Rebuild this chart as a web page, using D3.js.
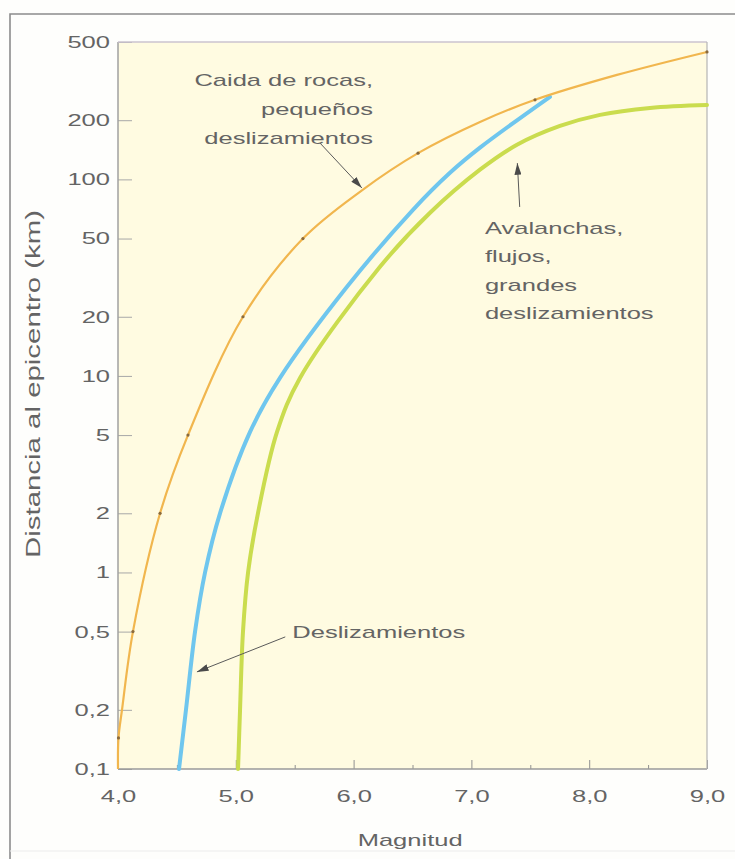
<!DOCTYPE html>
<html>
<head>
<meta charset="utf-8">
<script src="https://cdn.jsdelivr.net/npm/d3@7"></script>
<style>
  html, body { margin: 0; padding: 0; background: #ffffff; }
  svg { display: block; }
  text { font-family: "Liberation Sans", Arial, sans-serif; fill: #646464; }
</style>
</head>
<body>
<script>
// ---------- data ----------
const xTicks = [4, 5, 6, 7, 8, 9];
const xTickLabels = ["4,0", "5,0", "6,0", "7,0", "8,0", "9,0"];
const xMinorTicks = [4.5, 5.5, 6.5, 7.5, 8.5];
const yTicks = [0.1, 0.2, 0.5, 1, 2, 5, 10, 20, 50, 100, 200, 500];
const yTickLabels = ["0,1", "0,2", "0,5", "1", "2", "5", "10", "20", "50", "100", "200", "500"];

// Caída de rocas, pequeños deslizamientos  [magnitud, distancia km]
const rockfallMag  = [4.0, 4.004, 4.034, 4.127, 4.357, 4.594, 5.061, 5.57, 6.071, 6.547, 7.073, 7.54, 8.236, 9.0];
const rockfallDist = [0.1, 0.144, 0.2, 0.5, 2, 5, 20, 50, 88, 136, 196, 254, 340, 445];
// marks on the rockfall curve
const rockfallMarkMag  = [4.004, 4.127, 4.357, 4.594, 5.061, 5.57, 6.547, 7.54, 9.0];
const rockfallMarkDist = [0.144, 0.5, 2, 5, 20, 50, 136, 254, 445];

// Deslizamientos
const slideMag  = [4.518, 4.577, 4.654, 4.739, 4.866, 5.121, 5.375, 5.944, 6.504, 6.818, 7.073, 7.667];
const slideDist = [0.1, 0.2, 0.5, 1, 2, 5.19, 9.77, 28.4, 70, 108, 145, 263];

// Avalanchas, flujos, grandes deslizamientos
const avalMag  = [5.019, 5.036, 5.061, 5.104, 5.188, 5.35, 5.545, 6.224, 6.649, 7.073, 7.387, 7.752, 8.092, 8.516, 9.0];
const avalDist = [0.1, 0.2, 0.5, 1, 2, 5.19, 9.77, 35.9, 67.6, 112, 150, 187, 213, 231, 239];

// annotations (data coordinates)
const rockLabelLines = ["Caida de rocas,", "pequeños", "deslizamientos"];
const rockLabelAt = [6.165, 299];
const rockArrow = [[5.715, 153], [6.07, 90.5]];
const avalLabelLines = ["Avalanchas,", "flujos,", "grandes", "deslizamientos"];
const avalLabelAt = [7.115, 52.8];
const avalArrow = [[7.41, 72.4], [7.39, 121]];
const slideLabelLines = ["Deslizamientos"];
const slideLabelAt = [5.48, 0.465];
const slideArrow = [[5.42, 0.47], [4.67, 0.312]];

const xTitle = "Magnitud";
const yTitle = "Distancia al epicentro (km)";

// ---------- layout ----------
const W = 735, H = 859;
const STRETCH = 1.5;
const x = d3.scaleLinear().domain([4, 9]).range([118, 707]);
const y = d3.scaleLog().domain([0.1, 500]).range([769, 42]);

const svg = d3.select("body").append("svg").attr("width", W).attr("height", H);

function stretch(sel, f) {
  sel.each(function () {
    const L = this.getComputedTextLength();
    d3.select(this).attr("textLength", L * f).attr("lengthAdjust", "spacingAndGlyphs");
  });
}

// page background + frame
svg.append("rect").attr("width", W).attr("height", H).attr("fill", "#fefefc");
svg.append("path").attr("d", "M10,859 V14 H735").attr("fill", "none")
  .attr("stroke", "#8c8c8c").attr("stroke-width", 1.6);
svg.append("path").attr("d", "M10,851 H735").attr("fill", "none")
  .attr("stroke", "#ececec").attr("stroke-width", 1);

// plot background
const [x0, x1] = x.range(), [y0, y1] = y.range();
svg.append("rect").attr("x", x0).attr("y", y1).attr("width", x1 - x0).attr("height", y0 - y1)
  .attr("fill", "#fffbe1");

// axes
const yAxis = svg.append("g").attr("transform", `translate(${x0},0)`)
  .call(d3.axisLeft(y).tickValues(yTicks).tickFormat((d, i) => yTickLabels[i])
    .tickSizeInner(-14).tickSizeOuter(0).tickPadding(8));
yAxis.select(".domain").remove();
yAxis.selectAll(".tick line").attr("stroke", "#a8a8a8").attr("stroke-width", 1);
yAxis.selectAll(".tick text").attr("font-size", 17).attr("fill", "#5e5e5e")
  .attr("font-family", "Liberation Sans, Arial, sans-serif");
stretch(yAxis.selectAll(".tick text"), STRETCH);

const xAxis = svg.append("g").attr("transform", `translate(0,${y0})`)
  .call(d3.axisBottom(x).tickValues(xTicks).tickFormat((d, i) => xTickLabels[i])
    .tickSizeInner(-9).tickSizeOuter(0).tickPadding(21));
xAxis.select(".domain").remove();
xAxis.selectAll(".tick line").attr("stroke", "#909090").attr("stroke-width", 1);
xAxis.selectAll(".tick text").attr("font-size", 17).attr("fill", "#5e5e5e")
  .attr("font-family", "Liberation Sans, Arial, sans-serif");
stretch(xAxis.selectAll(".tick text"), STRETCH);

const xMinor = svg.append("g").attr("transform", `translate(0,${y0})`)
  .call(d3.axisBottom(x).tickValues(xMinorTicks).tickFormat("").tickSizeInner(-4).tickSizeOuter(0));
xMinor.select(".domain").remove();
xMinor.selectAll(".tick line").attr("stroke", "#909090");

// plot border lines
svg.append("line").attr("x1", x0).attr("x2", x0).attr("y1", y1).attr("y2", y0).attr("stroke", "#a0a0a0").attr("stroke-width", 1.5);
svg.append("line").attr("x1", x0).attr("x2", x1).attr("y1", y0).attr("y2", y0).attr("stroke", "#9a9a9a").attr("stroke-width", 1.5);
svg.append("line").attr("x1", x0).attr("x2", x1).attr("y1", y1).attr("y2", y1).attr("stroke", "#cbc3cf").attr("stroke-width", 1.5);
svg.append("line").attr("x1", x1).attr("x2", x1).attr("y1", y1).attr("y2", y0).attr("stroke", "#b4b4b4").attr("stroke-width", 1.2);

// curves
const line = d3.line().x(d => x(d[0])).y(d => y(d[1])).curve(d3.curveCatmullRom.alpha(0.5));
const zip = (a, b) => a.map((v, i) => [v, b[i]]);

svg.append("path").datum(zip(avalMag, avalDist)).attr("d", line)
  .attr("fill", "none").attr("stroke", "#cadc4e").attr("stroke-width", 4).attr("stroke-linecap", "round");
svg.append("path").datum(zip(slideMag, slideDist)).attr("d", line)
  .attr("fill", "none").attr("stroke", "#6fc6ee").attr("stroke-width", 4).attr("stroke-linecap", "round");
svg.append("path").datum(zip(rockfallMag, rockfallDist)).attr("d", line)
  .attr("fill", "none").attr("stroke", "#f1b64e").attr("stroke-width", 2.2);
svg.append("g").selectAll("circle").data(zip(rockfallMarkMag, rockfallMarkDist)).join("circle")
  .attr("cx", d => x(d[0])).attr("cy", d => y(d[1])).attr("r", 1.6).attr("fill", "#8a6a3c");

// arrows
svg.append("defs").append("marker").attr("id", "ah").attr("viewBox", "0 0 10 6")
  .attr("refX", 10).attr("refY", 3).attr("markerWidth", 12).attr("markerHeight", 7)
  .attr("markerUnits", "userSpaceOnUse").attr("orient", "auto")
  .append("path").attr("d", "M0,0 L10,3 L0,6 Z").attr("fill", "#4a4a4a");

[rockArrow, avalArrow, slideArrow].forEach(a => {
  svg.append("line")
    .attr("x1", x(a[0][0])).attr("y1", y(a[0][1]))
    .attr("x2", x(a[1][0])).attr("y2", y(a[1][1]))
    .attr("stroke", "#5a5a5a").attr("stroke-width", 1).attr("marker-end", "url(#ah)");
});

// labels
function block(lines, at, anchor, lh) {
  const g = svg.append("g");
  lines.forEach((t, i) => {
    g.append("text").attr("x", x(at[0])).attr("y", y(at[1]) + i * lh)
      .attr("text-anchor", anchor).attr("font-size", 17).text(t);
  });
  stretch(g.selectAll("text"), STRETCH);
}
block(rockLabelLines, rockLabelAt, "end", 29);
block(avalLabelLines, avalLabelAt, "start", 28.5);
block(slideLabelLines, slideLabelAt, "start", 28);

// axis titles
const xt = svg.append("text").attr("x", x(6.48)).attr("y", 846).attr("text-anchor", "middle")
  .attr("font-size", 17).text(xTitle);
stretch(xt, STRETCH);
const yt = svg.append("text").attr("transform", "translate(40,384) rotate(-90)")
  .attr("text-anchor", "middle").attr("font-size", 20).text(yTitle);
stretch(yt, 1.47);
</script>
</body>
</html>
